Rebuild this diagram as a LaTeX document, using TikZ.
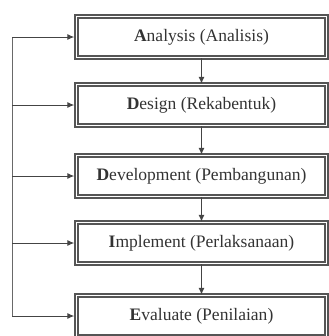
\documentclass[tikz,border=0pt]{standalone}
\usepackage{fontspec}
\setmainfont{Liberation Serif}
\usetikzlibrary{arrows.meta}
\definecolor{boxline}{HTML}{555555}
\definecolor{txt}{HTML}{333333}
\definecolor{conn}{HTML}{444444}
\begin{document}
\begin{tikzpicture}[x=1bp,y=-1bp,
  stagebox/.style={draw=boxline, line width=1.4bp, double=white, double distance=1.4bp,
    minimum width=250bp, minimum height=41bp, inner sep=0pt, text=txt,
    font=\fontsize{17.6}{20}\selectfont},
  flow/.style={draw=conn, line width=1bp, -{Latex[length=7bp,width=6bp]}},
  feed/.style={draw=conn!80, line width=1bp}]
\useasboundingbox (0,0) rectangle (329,336);
\node[stagebox] (a) at (201.5,37)  {\textbf{A}nalysis (Analisis)};
\node[stagebox] (b) at (201.5,105) {\textbf{D}esign (Rekabentuk)};
\node[stagebox] (c) at (201.5,176) {\textbf{D}evelopment (Pembangunan)};
\node[stagebox] (d) at (201.5,243) {\textbf{I}mplement (Perlaksanaan)};
\node[stagebox] (e) at (201.5,316) {\textbf{E}valuate (Penilaian)};
\draw[flow] (a.south) -- (b.north);
\draw[flow] (b.south) -- (c.north);
\draw[flow] (c.south) -- (d.north);
\draw[flow] (d.south) -- (e.north);
\coordinate (L) at (12,0);
\draw[feed] (L |- a.west) -- (L |- e.west);
\foreach \n in {a,b,c,d,e}
  \draw[flow] (L |- \n.west) -- ([xshift=-1.5bp]\n.west);
\end{tikzpicture}
\end{document}
